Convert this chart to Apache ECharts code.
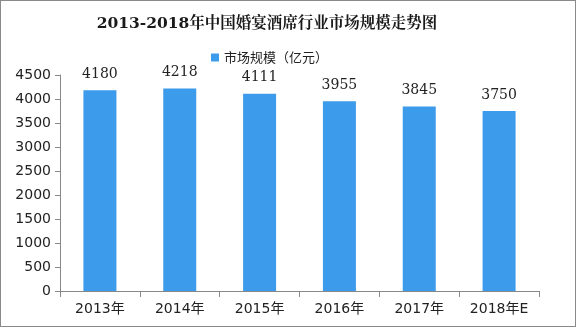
<!DOCTYPE html>
<html><head><meta charset="utf-8">
<script src="https://cdn.jsdelivr.net/npm/echarts@6/dist/echarts.min.js"></script>
<style>html,body{margin:0;padding:0;background:#fff}#c{width:576px;height:327px;box-sizing:border-box;border:1px solid #8a8a8a}</style>
</head><body><div id="c"></div>
<script>
const categories = ['2013年','2014年','2015年','2016年','2017年','2018年E'];
const values = [4180, 4218, 4111, 3955, 3845, 3750];
const seriesName = '市场规模（亿元）';
const chart = echarts.init(document.getElementById('c'));
chart.setOption({
  animation: false,
  title: {
    text: '2013-2018年中国婚宴酒席行业市场规模走势图',
    left: 261, top: 10, textAlign: 'center',
    textStyle: {fontFamily: 'DejaVu Serif, Noto Serif CJK SC, serif', fontSize: 15.5, fontWeight: 'bold', color: '#1a1a1a'}
  },
  legend: {
    data: [seriesName], left: 205, top: 45, itemWidth: 8, itemHeight: 8, itemGap: 3,
    icon: 'rect',
    textStyle: {fontSize: 13, color: '#222', fontFamily: 'Noto Sans CJK SC, sans-serif'}
  },
  grid: {left: 59, right: 36, top: 74, bottom: 35},
  xAxis: {
    type: 'category', data: categories,
    axisLine: {lineStyle: {color: '#888'}},
    axisTick: {show: true, length: 6, alignWithLabel: false, lineStyle: {color: '#888'}},
    axisLabel: {fontSize: 14, color: '#222', margin: 11, fontFamily: 'DejaVu Sans, Noto Sans CJK SC, sans-serif'}
  },
  yAxis: {
    type: 'value', min: 0, max: 4500, interval: 500,
    axisLine: {show: true, lineStyle: {color: '#888'}},
    axisTick: {show: true, length: 5, lineStyle: {color: '#888'}},
    splitLine: {show: false},
    axisLabel: {fontSize: 14, color: '#222', margin: 9, fontFamily: 'DejaVu Sans, sans-serif', formatter: v => String(v)}
  },
  series: [{
    name: seriesName, type: 'bar', data: values, barWidth: 33,
    itemStyle: {color: '#3C9BEA'},
    label: {show: true, position: 'top', distance: 9, fontSize: 14, color: '#222', fontFamily: 'DejaVu Serif, serif'}
  }]
});
</script></body></html>
